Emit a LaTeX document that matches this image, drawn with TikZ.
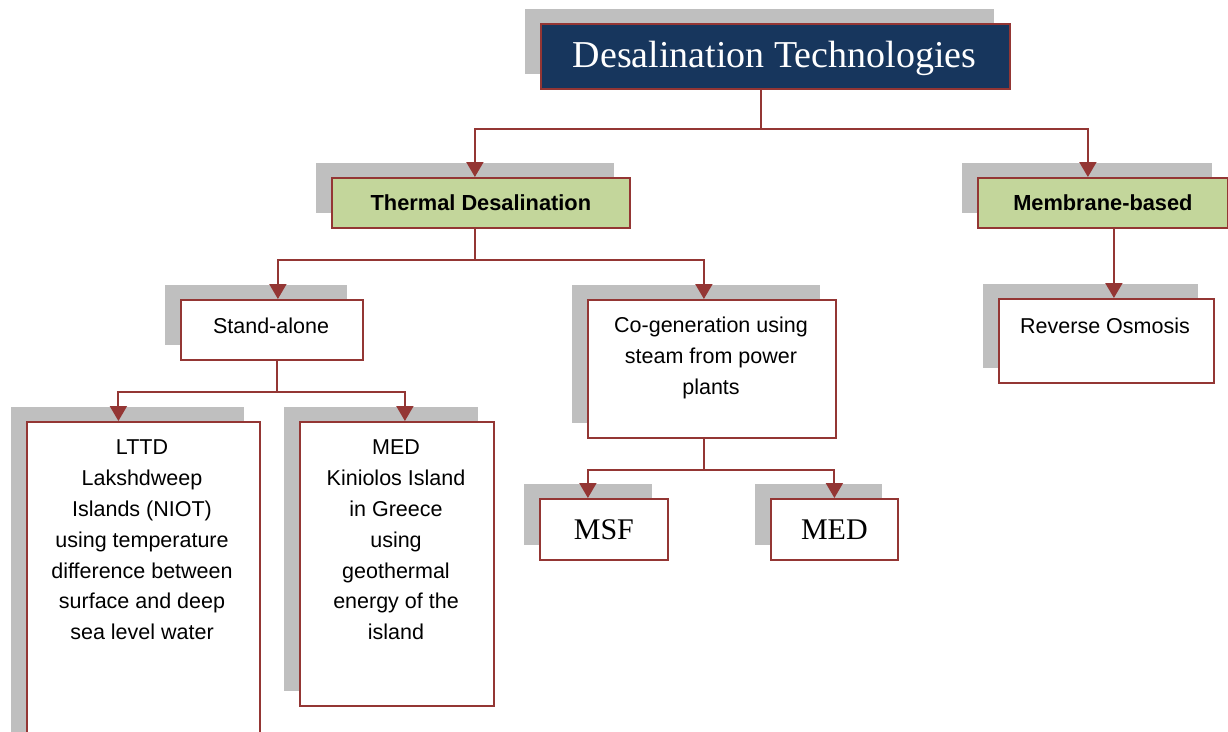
\documentclass[tikz,border=0pt]{standalone}
\usepackage{fontspec}
\setmainfont{Liberation Sans}
\newfontfamily\titlefont{Liberation Serif}
\usetikzlibrary{shadows,arrows.meta}
\definecolor{brd}{HTML}{943634}
\definecolor{navy}{HTML}{17365D}
\definecolor{leaf}{HTML}{C3D69B}
\definecolor{shd}{HTML}{BFBFBF}
\tikzset{
  box/.style={rectangle, draw=brd, line width=1.8pt, inner sep=0pt, anchor=north west,
    general shadow={fill=shd, shadow xshift=-16pt, shadow yshift=15pt}},
  sans/.style={font=\fontsize{21.5}{30.8}\selectfont, align=center, inner sep=0pt},
  conn/.style={draw=brd, line width=2pt, -{Triangle[width=17pt,length=15pt]}},
}
\begin{document}
\begin{tikzpicture}[x=1pt,y=-1pt]
\clip (0,0) rectangle (1228,731);
\fill[white] (0,0) rectangle (1228,731);
% boxes
\node[box, fill=navy, minimum width=469pt, minimum height=65pt] (title) at (540,23) {};
\node[text=white, inner sep=0pt, font=\titlefont\fontsize{38}{42}\selectfont] (titleT) at (774.5,58) {Desalination Technologies};
\node[box, fill=leaf, minimum width=298pt, minimum height=50pt,
  font=\bfseries\fontsize{21.8}{26}\selectfont] (thermal) at (331,177) {Thermal Desalination};
\node[box, fill=leaf, minimum width=250pt, minimum height=50pt,
  font=\bfseries\fontsize{21.8}{26}\selectfont] (memb) at (977,177) {Membrane-based};
\node[box, fill=white, minimum width=182pt, minimum height=60pt] (stand) at (180,299) {};
\node[sans] (standT) at (271,326) {Stand-alone};
\node[box, fill=white, minimum width=248pt, minimum height=138pt] (cogen) at (587,299) {};
\node[sans] (cogenT) at (711,358) {Co-generation using\\steam from power\\plants};
\node[box, fill=white, minimum width=215pt, minimum height=84pt] (ro) at (998,298) {};
\node[sans] (roT) at (1105,326) {Reverse Osmosis};
\node[box, fill=white, minimum width=233pt, minimum height=360pt] (lttd) at (26,421) {};
\node[sans] (lttdT) at (142,540) {LTTD\\Lakshdweep\\Islands (NIOT)\\using temperature\\difference between\\surface and deep\\sea level water};
\node[box, fill=white, minimum width=194pt, minimum height=284pt] (med) at (299,421) {};
\node[sans] (medT) at (396,540) {MED\\Kiniolos Island\\in Greece\\using\\geothermal\\energy of the\\island};
\node[box, fill=white, minimum width=128pt, minimum height=61pt,
  font=\titlefont\fontsize{30}{34}\selectfont] (msf) at (539,498) {MSF};
\node[box, fill=white, minimum width=127pt, minimum height=61pt,
  font=\titlefont\fontsize{30}{34}\selectfont] (med2) at (770,498) {MED};
% connectors
\draw[conn] ([xshift=-14.5pt]title.south) -- ++(0,39) -| ([xshift=-6pt]thermal.north);
\draw[conn] ([xshift=-14.5pt]title.south) -- ++(0,39) -| ([xshift=-15pt]memb.north);
\draw[conn] ([xshift=-6pt]thermal.south) -- ++(0,31) -| ([xshift=6pt]stand.north);
\draw[conn] ([xshift=-6pt]thermal.south) -- ++(0,31) -| ([xshift=-8pt]cogen.north);
\draw[conn] ([xshift=11pt]memb.south) -- ([xshift=7.5pt]ro.north);
\draw[conn] ([xshift=5pt]stand.south) -- ++(0,31) -| ([xshift=-25pt]lttd.north);
\draw[conn] ([xshift=5pt]stand.south) -- ++(0,31) -| ([xshift=8pt]med.north);
\draw[conn] ([xshift=-8pt]cogen.south) -- ++(0,31) -| ([xshift=-16pt]msf.north);
\draw[conn] ([xshift=-8pt]cogen.south) -- ++(0,31) -| ([xshift=0pt]med2.north);
\end{tikzpicture}
\end{document}
